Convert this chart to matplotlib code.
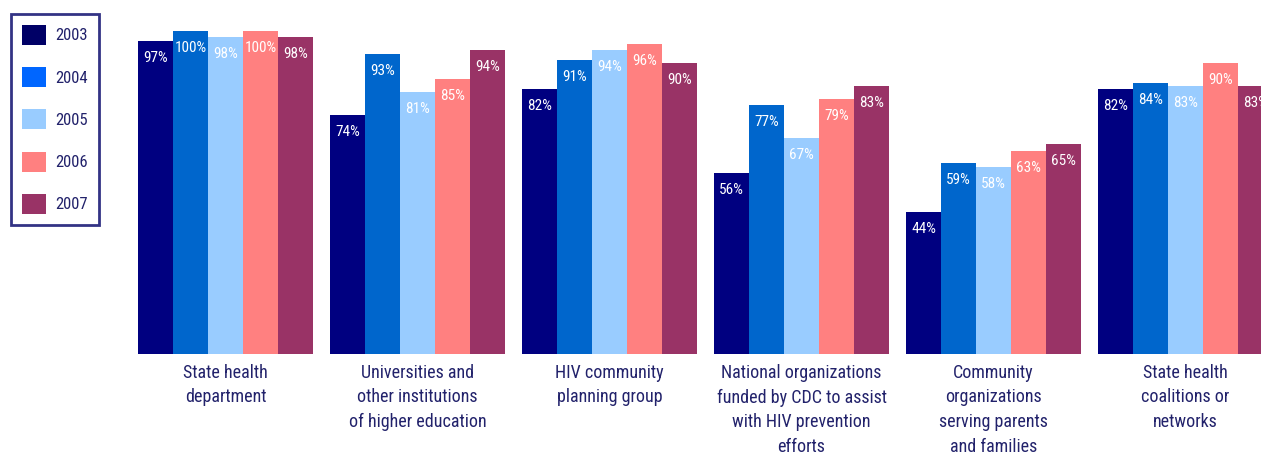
import matplotlib
matplotlib.use("Agg")
import matplotlib.pyplot as plt
from matplotlib.patches import Patch
from matplotlib import font_manager
import numpy as np

years = ["2003", "2004", "2005", "2006", "2007"]
categories = [
    "State health\ndepartment",
    "Universities and\nother institutions\nof higher education",
    "HIV community\nplanning group",
    "National organizations\nfunded by CDC to assist\nwith HIV prevention\nefforts",
    "Community\norganizations\nserving parents\nand families",
    "State health\ncoalitions or\nnetworks",
]
values = {
    "2003": [97, 74, 82, 56, 44, 82],
    "2004": [100, 93, 91, 77, 59, 84],
    "2005": [98, 81, 94, 67, 58, 83],
    "2006": [100, 85, 96, 79, 63, 90],
    "2007": [98, 94, 90, 83, 65, 83],
}
bar_colors = ["#000080", "#0066CC", "#99CCFF", "#FF8080", "#993366"]
legend_colors = ["#000066", "#0066FF", "#99CCFF", "#FF8080", "#993366"]
text_color = "#22226B"

names = {f.name for f in font_manager.fontManager.ttflist}
fam = [f for f in ["Liberation Sans Narrow", "Roboto Condensed", "DejaVu Sans Condensed", "DejaVu Sans"] if f in names]
plt.rcParams["font.family"] = fam

fig = plt.figure(figsize=(12.61, 4.57), dpi=100)
ax = fig.add_axes([0, 0, 1, 1])

w = 35 / 192
x = np.arange(len(categories))
for j, yr in enumerate(years):
    pos = x + (j - 2) * w
    bars = ax.bar(pos, values[yr], width=w, color=bar_colors[j], linewidth=0)
    for b, v in zip(bars, values[yr]):
        ax.annotate(f"{v}%", (b.get_x() + b.get_width() / 2, v), xytext=(0, -17),
                    textcoords="offset pixels", ha="center", va="center",
                    color="white", fontsize=11)

for i, c in enumerate(categories):
    ax.text(i, -3.0, c, ha="center", va="top", color=text_color, fontsize=13,
            linespacing=1.48)

x0 = -2.5 * w
ax.set_xlim(x0 - 138 / 192, x0 + (1261 - 138) / 192)
ax.set_ylim((354 - 457) / 3.23, 354 / 3.23)
ax.axis("off")

handles = [Patch(facecolor=c, edgecolor="none") for c in legend_colors]
leg = fig.legend(handles, years, loc="upper left", bbox_to_anchor=(11 / 1261, 1 - 14 / 457),
                 frameon=True, fontsize=12, handlelength=1.45, handleheight=1.45,
                 labelspacing=1.35, borderpad=0.65, handletextpad=0.55, borderaxespad=0,
                 fancybox=False)
leg.get_frame().set_edgecolor("#000066")
leg.get_frame().set_linewidth(2)
for t in leg.get_texts():
    t.set_color(text_color)

fig.savefig("out.png", dpi=100)
